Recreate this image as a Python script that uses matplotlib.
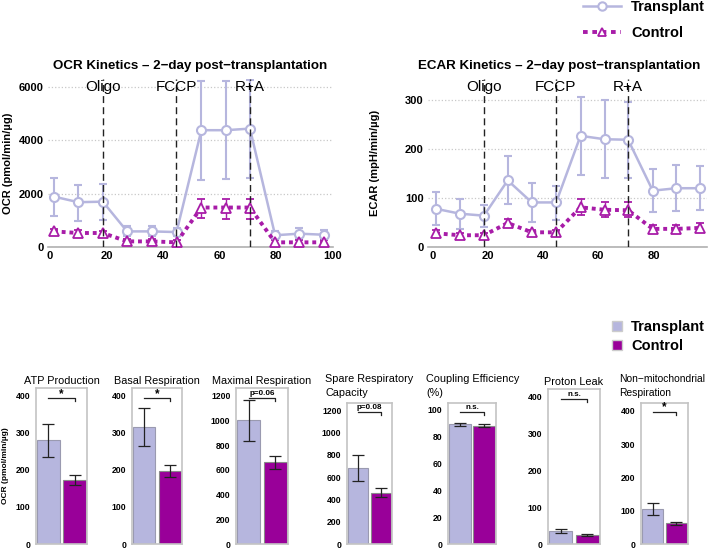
import numpy as np
import matplotlib
matplotlib.use('Agg')
import matplotlib.pyplot as plt
from matplotlib.lines import Line2D
from matplotlib.patches import Patch
import matplotlib.transforms as mtransforms

plt.rcParams['font.family'] = ['Liberation Sans', 'DejaVu Sans']

# kinetics data
time = [1.4, 10.0, 18.7, 27.3, 36.0, 44.8, 53.6, 62.3, 70.8, 79.7, 88.2, 96.9]
injections = [18.8, 44.6, 70.8]
injection_names = ['Oligo', 'FCCP', 'R+A']

ocr_tx = [1890, 1680, 1700, 585, 585, 560, 4380, 4380, 4440, 440, 500, 460]
ocr_tx_lo = [1150, 960, 1000, 400, 400, 400, 2520, 2550, 2600, 300, 300, 300]
ocr_tx_hi = [2600, 2330, 2350, 800, 800, 700, 6220, 6220, 6250, 600, 700, 650]
ocr_ct = [585, 525, 525, 210, 210, 175, 1480, 1480, 1480, 175, 175, 175]
ocr_ct_lo = [480, 450, 430, 150, 150, 100, 1100, 1050, 1050, 100, 100, 100]
ocr_ct_hi = [680, 620, 600, 300, 300, 250, 1800, 1800, 1800, 250, 250, 250]

ecar_tx = [78, 68, 64, 136, 91, 91, 227, 220, 219, 115, 120, 120]
ecar_tx_lo = [45, 37, 40, 88, 52, 55, 148, 140, 140, 71, 73, 75]
ecar_tx_hi = [112, 99, 86, 185, 130, 125, 306, 300, 297, 160, 167, 165]
ecar_ct = [28, 24, 24, 49, 30, 30, 81, 76, 75, 37, 37, 39]
ecar_ct_lo = [22, 19, 19, 42, 26, 26, 65, 62, 61, 33, 32, 32]
ecar_ct_hi = [34, 28, 29, 57, 34, 35, 97, 91, 92, 44, 44, 50]

# summary bar data
params = ['ATP Production', 'Basal Respiration', 'Maximal Respiration',
          'Spare Respiratory\nCapacity', 'Coupling Efficiency\n(%)',
          'Proton Leak', 'Non\u2212mitochondrial\nRespiration']
bar_tx = [280, 315, 1000, 685, 89, 35, 105]
bar_tx_lo = [235, 263, 830, 565, 88, 30, 88]
bar_tx_hi = [322, 365, 1165, 800, 90, 40, 122]
bar_ct = [172, 197, 660, 460, 88, 25, 63]
bar_ct_lo = [158, 180, 605, 420, 87, 22, 58]
bar_ct_hi = [185, 212, 710, 500, 89, 28, 67]
signif = ['*', '*', 'p=0.06', 'p=0.08', 'n.s.', 'n.s.', '*']
bar_ymax = [420, 420, 1262, 1263, 105, 419, 424]
bar_ystep = [100, 100, 200, 200, 20, 100, 100]

TX = '#b6b6de'
CT = '#990099'
CT_LINE = '#a81ca8'

W, H = 709, 548
fig = plt.figure(figsize=(W / 100, H / 100), dpi=100)


def px_axes(left, top, right, bottom):
    return fig.add_axes([left / W, 1 - bottom / H, (right - left) / W, (bottom - top) / H])


def yerr(v, lo, hi):
    v = np.asarray(v, float)
    return [v - np.asarray(lo), np.asarray(hi) - v]


def kinetics(ax, tx, tx_lo, tx_hi, ct, ct_lo, ct_hi, title, ylabel, ylim, yticks, xlim,
             label_y, ylabelpad):
    ax.errorbar(time, tx, yerr=yerr(tx, tx_lo, tx_hi), color=TX, lw=1.8,
                marker='o', ms=6.5, mfc='white', mec=TX, mew=1.5,
                capsize=3, elinewidth=1.5, capthick=1.2, label='Transplant', zorder=3)
    ax.errorbar(time, ct, yerr=yerr(ct, ct_lo, ct_hi), color=CT_LINE, lw=2.8,
                ls=(0, (1, 1)), marker='^', ms=6.5, mfc='white', mec=CT_LINE, mew=1.3,
                capsize=3, elinewidth=1.0, capthick=1.0, label='Control', zorder=3)
    for x, name in zip(injections, injection_names):
        ax.axvline(x, color='#222222', lw=1.0, ls=(0, (5, 3)), zorder=4)
        ax.text(x, label_y, name, ha='center', va='center', fontsize=11, zorder=5)
    ax.set_xlim(*xlim)
    ax.set_ylim(*ylim)
    ax.set_yticks(yticks)
    ax.set_xticks([t for t in range(0, 101, 20) if t <= xlim[1]])
    for s in ['left', 'right', 'top']:
        ax.spines[s].set_visible(False)
    ax.spines['bottom'].set_color('#b0b0b0')
    ax.spines['bottom'].set_linewidth(1.2)
    ax.grid(axis='y', color='#c8c8c8', ls=':', lw=0.9)
    ax.set_axisbelow(True)
    ax.tick_params(length=0, labelsize=8, pad=3)
    for lab in ax.get_xticklabels() + ax.get_yticklabels():
        lab.set_fontweight('bold')
    ax.set_title(title, fontsize=9.6, fontweight='bold', pad=7)
    ax.set_ylabel(ylabel, fontsize=8, fontweight='bold', labelpad=ylabelpad)


ax_ocr = px_axes(48, 79, 333, 247)
kinetics(ax_ocr, ocr_tx, ocr_tx_lo, ocr_tx_hi, ocr_ct, ocr_ct_lo, ocr_ct_hi,
         'OCR Kinetics \u2013 2\u2212day post\u2212transplantation', 'OCR (pmol/min/\u00b5g)',
         (0, 6300), [0, 2000, 4000, 6000], (-0.7, 100.2), 6000, 4)

ax_ecar = px_axes(428, 79, 707, 247)
kinetics(ax_ecar, ecar_tx, ecar_tx_lo, ecar_tx_hi, ecar_ct, ecar_ct_lo, ecar_ct_hi,
         'ECAR Kinetics \u2013 2\u2212day post\u2212transplantation', 'ECAR (mpH/min/\u00b5g)',
         (0, 343), [0, 100, 200, 300], (-1.5, 99.3), 327, 18)
ax_ecar.title.set_position((0.47, 1.0))

# line legend (top right)
line_handles = [
    Line2D([], [], color=TX, lw=1.8, marker='o', ms=6, mfc='white', mec=TX, mew=1.5),
    Line2D([], [], color=CT_LINE, lw=2.8, ls=(0, (1.2, 1.2)), marker='^', ms=6,
           mfc='white', mec=CT_LINE, mew=1.3),
]
fig.legend(line_handles, ['Transplant', 'Control'], loc='upper left',
           bbox_to_anchor=(583 / W, 1.0), frameon=False,
           prop={'weight': 'bold', 'size': 10.5}, handlelength=2.6,
           handletextpad=0.7, labelspacing=0.85, borderpad=0, borderaxespad=0)

# summary panels
panel_px = [(36, 87, 388), (132, 182, 388), (236, 288, 388), (347, 392, 403),
            (448, 496, 403), (548, 600, 389), (641, 688, 403)]
for i, (l, r, t) in enumerate(panel_px):
    ax = px_axes(l, t, r, 544)
    ax.bar([0], [bar_tx[i]], width=0.88, color=TX, edgecolor='#9a9ab0', lw=0.8)
    ax.bar([1], [bar_ct[i]], width=0.88, color=CT, edgecolor='#8a8a8a', lw=0.8)
    ax.errorbar([0, 1], [bar_tx[i], bar_ct[i]],
                yerr=[[bar_tx[i] - bar_tx_lo[i], bar_ct[i] - bar_ct_lo[i]],
                      [bar_tx_hi[i] - bar_tx[i], bar_ct_hi[i] - bar_ct[i]]],
                fmt='none', ecolor='#222222', elinewidth=0.9, capsize=4, capthick=0.9)
    ax.set_xlim(-0.48, 1.48)
    ax.set_ylim(0, bar_ymax[i])
    ax.set_yticks(np.arange(0, bar_ymax[i], bar_ystep[i]))
    ax.set_xticks([])
    ax.tick_params(length=0, labelsize=6.2, pad=4)
    for lab in ax.get_yticklabels():
        lab.set_fontweight('bold')
    for s in ax.spines.values():
        s.set_color('#c4c4c4')
        s.set_linewidth(1.2)
    # significance bracket
    tr = mtransforms.blended_transform_factory(ax.transData, ax.transAxes)
    ax.plot([0, 1, 1], [0.935, 0.935, 0.915], color='#222222', lw=0.9, transform=tr,
            clip_on=False)
    if signif[i] == '*':
        ax.text(0.5, 0.925, '*', transform=tr, ha='center', va='bottom',
                fontsize=8.5, fontweight='bold')
    else:
        ax.text(0.5, 0.94, signif[i], transform=tr, ha='center', va='bottom',
                fontsize=5.8, fontweight='bold')
    if '\n' in params[i]:
        fig.text((l - 22) / W, 1 - 374 / H, params[i], ha='left', va='top',
                 fontsize=7.8 if i != 6 else 7.4, linespacing=1.55)
    else:
        ax.set_title(params[i], fontsize=7.8, pad=3)
    if i == 0:
        ax.set_ylabel('OCR (pmol/min/\u00b5g)', fontsize=6, fontweight='bold')
        ax.yaxis.set_label_coords(-0.53, 0.5)

# bar legend
bar_handles = [Patch(facecolor=TX, edgecolor='#cccccc'), Patch(facecolor=CT, edgecolor='#cccccc')]
fig.legend(bar_handles, ['Transplant', 'Control'], loc='upper left',
           bbox_to_anchor=(612 / W, 1 - 320 / H), frameon=False,
           prop={'weight': 'bold', 'size': 10.5}, handlelength=0.7, handleheight=0.7,
           handletextpad=0.6, labelspacing=0.37, borderpad=0, borderaxespad=0)

fig.savefig('out.png', dpi=100)
